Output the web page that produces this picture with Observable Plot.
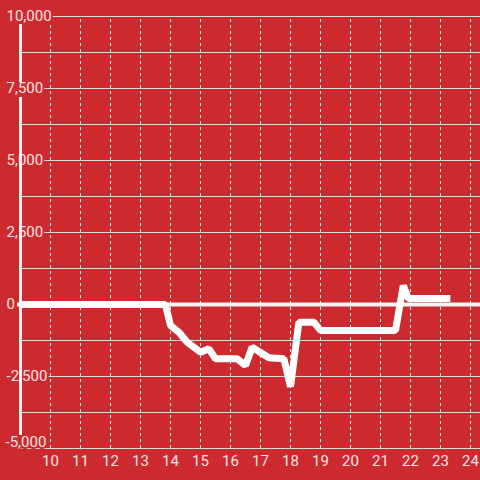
<!DOCTYPE html>
<html>
<head>
<meta charset="utf-8">
<script src="https://cdn.jsdelivr.net/npm/d3@7"></script>
<script src="https://cdn.jsdelivr.net/npm/@observablehq/plot@0.6"></script>
<style>
  html, body { margin: 0; padding: 0; background: #cd2a2f; }
  #chart svg { display: block; }
</style>
</head>
<body>
<div id="chart"></div>
<script>
const BG = "#cd2a2f";
const LABEL = "#f8e2e3";

// Series: hour of day vs value
const hours  = [9, 13.83, 14.0, 14.28, 14.56, 15.0, 15.28, 15.5, 16.22, 16.5, 16.72, 17.28, 17.78, 18.0, 18.28, 18.78, 19.0, 21.5, 21.76, 21.93, 23.33];
const values = [0, 0, -730, -960, -1310, -1656, -1540, -1885, -1885, -2118, -1483, -1850, -1885, -2850, -615, -615, -900, -900, 660, 208, 208];

// Axis ticks
const xTicks = [10, 11, 12, 13, 14, 15, 16, 17, 18, 19, 20, 21, 22, 23, 24];
const yGrid = [-5000, -3750, -2500, -1250, 0, 1250, 2500, 3750, 5000, 6250, 7500, 8750, 10000];
const yTicks = [-5000, -2500, 0, 2500, 5000, 7500, 10000];
const yTickLabels = ["-5,000", "-2,500", "0", "2,500", "5,000", "7,500", "10,000"];

const series = hours.map((h, i) => ({h, v: values[i]}));
const yLab = yTicks.map((v, i) => ({v, label: yTickLabels[i]}));
const xMin = 9, xMax = 24.3333, yMin = -5000, yMax = 10000;

const chart = Plot.plot({
  width: 480,
  height: 480,
  marginLeft: 20,
  marginRight: 0,
  marginTop: 16,
  marginBottom: 32,
  style: {background: BG, fontFamily: "Roboto, sans-serif", fontSize: "15px"},
  x: {domain: [xMin, xMax], axis: null},
  y: {domain: [yMin, yMax], axis: null},
  marks: [
    Plot.ruleY(yGrid, {stroke: "#dadada", strokeWidth: 1}),
    Plot.ruleX(xTicks, {y1: yMin, y2: yMax, stroke: "#ececec", strokeWidth: 1, strokeDasharray: "3,3"}),
    Plot.text(yLab.filter(d => d.v !== yMin), {x: xMin, y: "v", text: "label", dx: -14, textAnchor: "start",
      fill: LABEL, stroke: BG, strokeWidth: 4, fontSize: 15}),
    Plot.text(yLab.filter(d => d.v === yMin), {x: xMin, y: "v", text: "label", dx: -15, dy: -6, textAnchor: "start",
      fill: LABEL, stroke: BG, strokeWidth: 4, fontSize: 15}),
    Plot.text(xTicks, {x: d => d, y: yMin, text: d => String(d), dy: 13, fill: LABEL, fontSize: 15}),
    Plot.ruleX([{y1: 9720, y2: 7710}, {y1: 7190, y2: -4550}], {x: xMin, y1: "y1", y2: "y2", stroke: "#f2f2f2", strokeWidth: 3}),
    Plot.ruleY([0], {x1: 8.9, x2: xMax, stroke: "#f5f5f5", strokeWidth: 4}),
    Plot.line(series, {x: "h", y: "v", stroke: "#ffffff", strokeWidth: 7, strokeLinejoin: "miter", strokeLinecap: "butt"})
  ]
});
document.getElementById("chart").appendChild(chart);
</script>
</body>
</html>
